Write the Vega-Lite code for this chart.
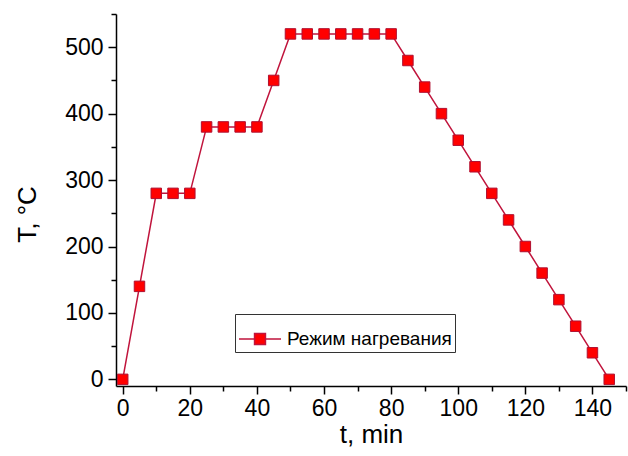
{
  "$schema": "https://vega.github.io/schema/vega-lite/v6.json",
  "autosize": "none",
  "width": 510,
  "height": 372,
  "padding": {"left": 116, "top": 14, "right": 2, "bottom": 70},
  "background": "white",
  "config": {
    "view": {"stroke": null},
    "font": "Liberation Sans",
    "axis": {"domainColor": "black", "tickColor": "black", "labelColor": "black", "titleColor": "black", "grid": false, "labelFont": "Liberation Sans", "titleFont": "Liberation Sans", "domainWidth": 1.5, "tickWidth": 1.5}
  },
  "data": {
    "values": [
      {"t": 0, "T": 0, "series": "Режим нагревания"},
      {"t": 5, "T": 140, "series": "Режим нагревания"},
      {"t": 10, "T": 280, "series": "Режим нагревания"},
      {"t": 15, "T": 280, "series": "Режим нагревания"},
      {"t": 20, "T": 280, "series": "Режим нагревания"},
      {"t": 25, "T": 380, "series": "Режим нагревания"},
      {"t": 30, "T": 380, "series": "Режим нагревания"},
      {"t": 35, "T": 380, "series": "Режим нагревания"},
      {"t": 40, "T": 380, "series": "Режим нагревания"},
      {"t": 45, "T": 450, "series": "Режим нагревания"},
      {"t": 50, "T": 520, "series": "Режим нагревания"},
      {"t": 55, "T": 520, "series": "Режим нагревания"},
      {"t": 60, "T": 520, "series": "Режим нагревания"},
      {"t": 65, "T": 520, "series": "Режим нагревания"},
      {"t": 70, "T": 520, "series": "Режим нагревания"},
      {"t": 75, "T": 520, "series": "Режим нагревания"},
      {"t": 80, "T": 520, "series": "Режим нагревания"},
      {"t": 85, "T": 480, "series": "Режим нагревания"},
      {"t": 90, "T": 440, "series": "Режим нагревания"},
      {"t": 95, "T": 400, "series": "Режим нагревания"},
      {"t": 100, "T": 360, "series": "Режим нагревания"},
      {"t": 105, "T": 320, "series": "Режим нагревания"},
      {"t": 110, "T": 280, "series": "Режим нагревания"},
      {"t": 115, "T": 240, "series": "Режим нагревания"},
      {"t": 120, "T": 200, "series": "Режим нагревания"},
      {"t": 125, "T": 160, "series": "Режим нагревания"},
      {"t": 130, "T": 120, "series": "Режим нагревания"},
      {"t": 135, "T": 80, "series": "Режим нагревания"},
      {"t": 140, "T": 40, "series": "Режим нагревания"},
      {"t": 145, "T": 0, "series": "Режим нагревания"}
    ]
  },
  "resolve": {"axis": {"x": "independent", "y": "independent"}},
  "layer": [
    {
      "mark": {"type": "line", "color": "#c0143c", "strokeWidth": 1.5},
      "encoding": {
        "x": {"field": "t", "type": "quantitative", "scale": {"domain": [-2, 150], "nice": false, "zero": false},
          "axis": {"orient": "bottom", "values": [0, 20, 40, 60, 80, 100, 120, 140], "title": "t, min", "titleFontSize": 26, "titleFontWeight": "normal", "titlePadding": 1, "labelFontSize": 23, "labelPadding": 3, "tickSize": 8, "format": "d"}},
        "y": {"field": "T", "type": "quantitative", "scale": {"domain": [-10, 550], "nice": false, "zero": false},
          "axis": {"orient": "left", "values": [0, 100, 200, 300, 400, 500], "title": "T, °C", "titleFontSize": 26, "titleFontWeight": "normal", "titleX": -76, "titleY": 200, "labelFontSize": 23, "labelPadding": 5, "tickSize": 8, "format": "d"}}
      }
    },
    {
      "mark": {"type": "point", "shape": "square", "filled": true, "size": 110, "opacity": 1, "stroke": "#b01030", "strokeWidth": 1},
      "encoding": {
        "x": {"field": "t", "type": "quantitative",
          "axis": {"orient": "bottom", "values": [10, 30, 50, 70, 90, 110, 130, 150], "labels": false, "title": null, "domain": false, "tickSize": 5}},
        "y": {"field": "T", "type": "quantitative",
          "axis": {"orient": "left", "values": [50, 150, 250, 350, 450, 550], "labels": false, "title": null, "domain": false, "tickSize": 5}},
        "color": {"field": "series", "type": "nominal", "scale": {"range": ["#ff0000"]},
          "legend": {"title": null, "orient": "none", "legendX": 119, "legendY": 300, "strokeColor": "#333", "padding": 3, "labelFontSize": 19, "labelLimit": 400, "labelFont": "Liberation Sans", "labelColor": "black", "symbolType": "M -1 0 L -0.26 0 M 0.26 0 L 1 0 M -0.26 -0.26 L 0.26 -0.26 L 0.26 0.26 L -0.26 0.26 Z", "symbolSize": 1764, "symbolStrokeColor": "#c0143c", "symbolFillColor": "#ff0000", "symbolStrokeWidth": 1.5, "labelOffset": 5}}
      }
    }
  ]
}
